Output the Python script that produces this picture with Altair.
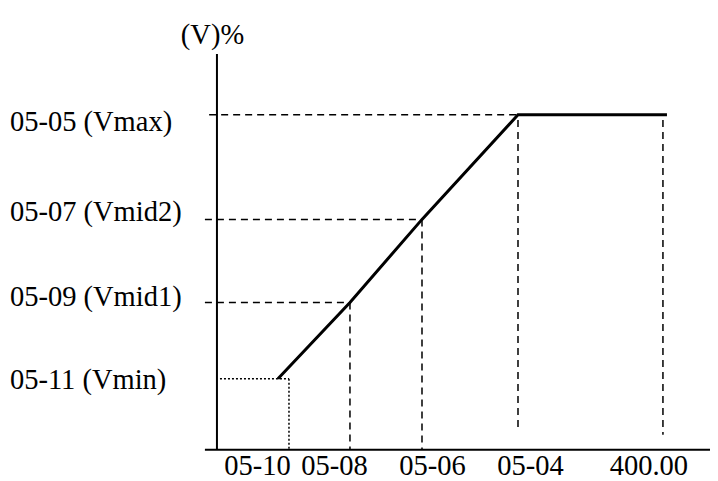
import altair as alt
import pandas as pd

# ---- data (x in frequency units where 400.00 sits at 400; y in % with Vmax = 100) ----
curve_x = [54.7, 119.3, 183.9, 270.0, 403.6]
curve_y = [21.2, 44.0, 68.8, 100.0, 100.0]

level_names = ["05-05 (Vmax)", "05-07 (Vmid2)", "05-09 (Vmid1)", "05-11 (Vmin)"]
level_y = [100.0, 68.8, 44.0, 21.2]
level_label_y = [95.2, 68.2, 42.8, 18.2]

freq_names = ["05-10", "05-08", "05-06", "05-04", "400.00"]
freq_x = [64.6, 119.3, 183.9, 270.0, 400.0]
freq_label_x = [36.3, 105.4, 193.3, 281.2, 387.4]

# dashed guides
h_dash_x0 = [-7.0, -10.8, -10.8]
h_dash_x1 = [270.0, 183.9, 119.3]
h_dash_y = [100.0, 68.8, 44.0]

v_dash_x = [119.3, 183.9, 270.0, 400.0]
v_dash_top = [44.0, 68.8, 98.5, 98.5]
v_dash_bot = [0.0, 0.0, 6.0, 4.5]

X0, X1 = -187.4, 442.2
Y0, Y1 = -9.3, 131.9
W, H = 702, 473

FONT = "Liberation Serif"
FS = 28.5

xs = alt.Scale(domain=[X0, X1], nice=False, zero=False)
ys = alt.Scale(domain=[Y0, Y1], nice=False, zero=False)


def X(f="x"):
    return alt.X(f"{f}:Q", scale=xs, axis=None)


def Y(f="y"):
    return alt.Y(f"{f}:Q", scale=ys, axis=None)


# axes
axes_df = pd.DataFrame({"x": [0.0, -10.8], "x2": [0.0, X1], "y": [118.2, 0.0], "y2": [0.0, 0.0]})
axes = alt.Chart(axes_df).mark_rule(color="black", strokeWidth=2).encode(
    x=X(), x2="x2:Q", y=Y(), y2="y2:Q")

hd = pd.DataFrame({"x": h_dash_x0, "x2": h_dash_x1, "y": h_dash_y})
h_dash = alt.Chart(hd).mark_rule(color="black", strokeWidth=1.5, strokeDash=[7, 5]).encode(
    x=X(), x2="x2:Q", y=Y())

vd = pd.DataFrame({"x": v_dash_x, "y": v_dash_top, "y2": v_dash_bot})
v_dash = alt.Chart(vd).mark_rule(color="black", strokeWidth=1.5, strokeDash=[7, 5]).encode(
    x=X(), y=Y(), y2="y2:Q")

dot_df = pd.DataFrame({"x": [2.7, freq_x[0]], "x2": [freq_x[0], freq_x[0]],
                       "y": [level_y[3], level_y[3]], "y2": [level_y[3], 0.0]})
dots = alt.Chart(dot_df).mark_rule(color="black", strokeWidth=1.5, strokeDash=[2, 2]).encode(
    x=X(), x2="x2:Q", y=Y(), y2="y2:Q")

cdf = pd.DataFrame({"x": curve_x, "y": curve_y, "o": list(range(len(curve_x)))})
curve = alt.Chart(cdf).mark_line(color="black", strokeWidth=3, strokeJoin="miter").encode(
    x=X(), y=Y(), order="o:Q")

ldf = pd.DataFrame({"t": level_names, "y": level_label_y, "x": [-185.7] * 4})
ylabels = alt.Chart(ldf).mark_text(font=FONT, fontSize=FS, align="left", baseline="alphabetic",
                                   color="black").encode(x=X(), y=Y(), text="t:N")

fdf = pd.DataFrame({"t": freq_names, "x": freq_label_x, "y": [-7.5] * 5})
xlabels = alt.Chart(fdf).mark_text(font=FONT, fontSize=FS, align="center", baseline="alphabetic",
                                   color="black").encode(x=X(), y=Y(), text="t:N")

tdf = pd.DataFrame({"t": ["(V)%"], "x": [-4.0], "y": [121.3]})
title = alt.Chart(tdf).mark_text(font=FONT, fontSize=FS, align="center", baseline="alphabetic",
                                 color="black").encode(x=X(), y=Y(), text="t:N")

chart = alt.layer(axes, h_dash, v_dash, dots, curve, ylabels, xlabels, title).properties(
    width=W, height=H, padding=0, autosize=alt.AutoSizeParams(type="none"), background="white"
).configure_view(stroke=None)

chart.save("out.html", embed_options={"renderer": "svg", "actions": False})
